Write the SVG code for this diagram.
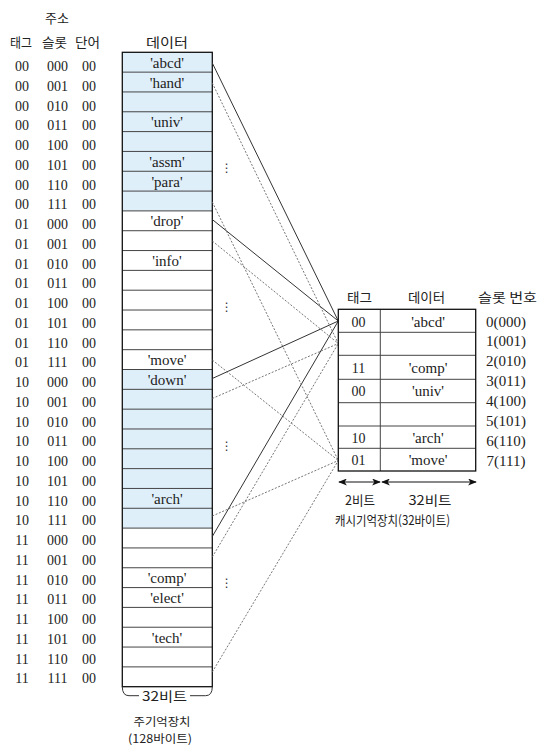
<svg xmlns="http://www.w3.org/2000/svg" width="540" height="751" viewBox="0 0 540 751">
<defs>
<style>
.ko{font-family:"Noto Sans CJK KR","Noto Sans",sans-serif;font-size:13px;fill:#222;text-anchor:middle}
.ks{font-family:"Noto Sans CJK KR","Noto Sans",sans-serif;font-size:11.5px;fill:#222;text-anchor:middle}
.sr{font-family:"Liberation Serif",serif;font-size:14px;fill:#222;text-anchor:middle}
.dt{font-family:"Liberation Serif",serif;font-size:15px;fill:#222;text-anchor:middle}
.blue{fill:#dfeffa}
.div{stroke:#444;stroke-width:1;fill:none}
.box{stroke:#111;stroke-width:1.3;fill:none}
.solid{stroke:#333;stroke-width:1;fill:none}
.dot{stroke:#666;stroke-width:0.9;fill:none;stroke-dasharray:2 1.6}
.el{font-family:"DejaVu Sans",sans-serif;font-size:12px;fill:#333;text-anchor:middle}
.arr{stroke:#111;stroke-width:1;fill:none;marker-start:url(#ah);marker-end:url(#ah)}
</style>
<marker id="ah" viewBox="0 0 10 8" refX="9" refY="4" markerWidth="9" markerHeight="7" markerUnits="userSpaceOnUse" orient="auto-start-reverse">
<path d="M0,0 L10,4 L0,8 L2.5,4 z" fill="#111"/>
</marker>
</defs>
<rect width="540" height="751" fill="#fff"/>

<g id="address-header">
<text class="ko" x="57" y="23">주소</text>
<text class="ko" x="21" y="47" textLength="22" lengthAdjust="spacingAndGlyphs">태그</text>
<text class="ko" x="54.5" y="47" textLength="25" lengthAdjust="spacingAndGlyphs">슬롯</text>
<text class="ko" x="87.5" y="47" textLength="25" lengthAdjust="spacingAndGlyphs">단어</text>
<text class="ko" x="167" y="47" textLength="42" lengthAdjust="spacingAndGlyphs">데이터</text>
</g>

<g id="addresses">
<text class="sr" x="22" y="71">00</text><text class="sr" x="57.5" y="71">000</text><text class="sr" x="89" y="71">00</text>
<text class="sr" x="22" y="90.8">00</text><text class="sr" x="57.5" y="90.8">001</text><text class="sr" x="89" y="90.8">00</text>
<text class="sr" x="22" y="110.5">00</text><text class="sr" x="57.5" y="110.5">010</text><text class="sr" x="89" y="110.5">00</text>
<text class="sr" x="22" y="130.3">00</text><text class="sr" x="57.5" y="130.3">011</text><text class="sr" x="89" y="130.3">00</text>
<text class="sr" x="22" y="150">00</text><text class="sr" x="57.5" y="150">100</text><text class="sr" x="89" y="150">00</text>
<text class="sr" x="22" y="169.8">00</text><text class="sr" x="57.5" y="169.8">101</text><text class="sr" x="89" y="169.8">00</text>
<text class="sr" x="22" y="189.5">00</text><text class="sr" x="57.5" y="189.5">110</text><text class="sr" x="89" y="189.5">00</text>
<text class="sr" x="22" y="209.3">00</text><text class="sr" x="57.5" y="209.3">111</text><text class="sr" x="89" y="209.3">00</text>
<text class="sr" x="22" y="229">01</text><text class="sr" x="57.5" y="229">000</text><text class="sr" x="89" y="229">00</text>
<text class="sr" x="22" y="248.8">01</text><text class="sr" x="57.5" y="248.8">001</text><text class="sr" x="89" y="248.8">00</text>
<text class="sr" x="22" y="268.5">01</text><text class="sr" x="57.5" y="268.5">010</text><text class="sr" x="89" y="268.5">00</text>
<text class="sr" x="22" y="288.3">01</text><text class="sr" x="57.5" y="288.3">011</text><text class="sr" x="89" y="288.3">00</text>
<text class="sr" x="22" y="308">01</text><text class="sr" x="57.5" y="308">100</text><text class="sr" x="89" y="308">00</text>
<text class="sr" x="22" y="327.8">01</text><text class="sr" x="57.5" y="327.8">101</text><text class="sr" x="89" y="327.8">00</text>
<text class="sr" x="22" y="347.5">01</text><text class="sr" x="57.5" y="347.5">110</text><text class="sr" x="89" y="347.5">00</text>
<text class="sr" x="22" y="367.3">01</text><text class="sr" x="57.5" y="367.3">111</text><text class="sr" x="89" y="367.3">00</text>
<text class="sr" x="22" y="387">10</text><text class="sr" x="57.5" y="387">000</text><text class="sr" x="89" y="387">00</text>
<text class="sr" x="22" y="406.8">10</text><text class="sr" x="57.5" y="406.8">001</text><text class="sr" x="89" y="406.8">00</text>
<text class="sr" x="22" y="426.5">10</text><text class="sr" x="57.5" y="426.5">010</text><text class="sr" x="89" y="426.5">00</text>
<text class="sr" x="22" y="446.3">10</text><text class="sr" x="57.5" y="446.3">011</text><text class="sr" x="89" y="446.3">00</text>
<text class="sr" x="22" y="466">10</text><text class="sr" x="57.5" y="466">100</text><text class="sr" x="89" y="466">00</text>
<text class="sr" x="22" y="485.8">10</text><text class="sr" x="57.5" y="485.8">101</text><text class="sr" x="89" y="485.8">00</text>
<text class="sr" x="22" y="505.5">10</text><text class="sr" x="57.5" y="505.5">110</text><text class="sr" x="89" y="505.5">00</text>
<text class="sr" x="22" y="525.3">10</text><text class="sr" x="57.5" y="525.3">111</text><text class="sr" x="89" y="525.3">00</text>
<text class="sr" x="22" y="545">11</text><text class="sr" x="57.5" y="545">000</text><text class="sr" x="89" y="545">00</text>
<text class="sr" x="22" y="564.8">11</text><text class="sr" x="57.5" y="564.8">001</text><text class="sr" x="89" y="564.8">00</text>
<text class="sr" x="22" y="584.5">11</text><text class="sr" x="57.5" y="584.5">010</text><text class="sr" x="89" y="584.5">00</text>
<text class="sr" x="22" y="604.3">11</text><text class="sr" x="57.5" y="604.3">011</text><text class="sr" x="89" y="604.3">00</text>
<text class="sr" x="22" y="624">11</text><text class="sr" x="57.5" y="624">100</text><text class="sr" x="89" y="624">00</text>
<text class="sr" x="22" y="643.8">11</text><text class="sr" x="57.5" y="643.8">101</text><text class="sr" x="89" y="643.8">00</text>
<text class="sr" x="22" y="663.5">11</text><text class="sr" x="57.5" y="663.5">110</text><text class="sr" x="89" y="663.5">00</text>
<text class="sr" x="22" y="683.3">11</text><text class="sr" x="57.5" y="683.3">111</text><text class="sr" x="89" y="683.3">00</text>
</g>

<g id="main-memory">
<rect class="blue" x="122.3" y="52.3" width="90" height="158.6"/>
<rect class="blue" x="122.3" y="369.5" width="90" height="158.6"/>
<g class="div">
<line x1="122.3" y1="72.13" x2="212.3" y2="72.13"/>
<line x1="122.3" y1="91.95" x2="212.3" y2="91.95"/>
<line x1="122.3" y1="111.78" x2="212.3" y2="111.78"/>
<line x1="122.3" y1="131.6" x2="212.3" y2="131.6"/>
<line x1="122.3" y1="151.43" x2="212.3" y2="151.43"/>
<line x1="122.3" y1="171.25" x2="212.3" y2="171.25"/>
<line x1="122.3" y1="191.08" x2="212.3" y2="191.08"/>
<line x1="122.3" y1="210.9" x2="212.3" y2="210.9"/>
<line x1="122.3" y1="230.73" x2="212.3" y2="230.73"/>
<line x1="122.3" y1="250.55" x2="212.3" y2="250.55"/>
<line x1="122.3" y1="270.38" x2="212.3" y2="270.38"/>
<line x1="122.3" y1="290.2" x2="212.3" y2="290.2"/>
<line x1="122.3" y1="310.03" x2="212.3" y2="310.03"/>
<line x1="122.3" y1="329.85" x2="212.3" y2="329.85"/>
<line x1="122.3" y1="349.68" x2="212.3" y2="349.68"/>
<line x1="122.3" y1="369.5" x2="212.3" y2="369.5"/>
<line x1="122.3" y1="389.33" x2="212.3" y2="389.33"/>
<line x1="122.3" y1="409.15" x2="212.3" y2="409.15"/>
<line x1="122.3" y1="428.98" x2="212.3" y2="428.98"/>
<line x1="122.3" y1="448.8" x2="212.3" y2="448.8"/>
<line x1="122.3" y1="468.63" x2="212.3" y2="468.63"/>
<line x1="122.3" y1="488.45" x2="212.3" y2="488.45"/>
<line x1="122.3" y1="508.28" x2="212.3" y2="508.28"/>
<line x1="122.3" y1="528.1" x2="212.3" y2="528.1"/>
<line x1="122.3" y1="547.93" x2="212.3" y2="547.93"/>
<line x1="122.3" y1="567.75" x2="212.3" y2="567.75"/>
<line x1="122.3" y1="587.58" x2="212.3" y2="587.58"/>
<line x1="122.3" y1="607.4" x2="212.3" y2="607.4"/>
<line x1="122.3" y1="627.23" x2="212.3" y2="627.23"/>
<line x1="122.3" y1="647.05" x2="212.3" y2="647.05"/>
<line x1="122.3" y1="666.88" x2="212.3" y2="666.88"/>
</g>
<rect class="box" x="122.3" y="52.3" width="90" height="634.4"/>
<text class="dt" x="167" y="67.8">'abcd'</text>
<text class="dt" x="167" y="87.6">'hand'</text>
<text class="dt" x="167" y="127.3">'univ'</text>
<text class="dt" x="167" y="166.9">'assm'</text>
<text class="dt" x="167" y="186.7">'para'</text>
<text class="dt" x="167" y="226.4">'drop'</text>
<text class="dt" x="167" y="266">'info'</text>
<text class="dt" x="167" y="365.2">'move'</text>
<text class="dt" x="167" y="385">'down'</text>
<text class="dt" x="167" y="503.9">'arch'</text>
<text class="dt" x="167" y="583.2">'comp'</text>
<text class="dt" x="167" y="603">'elect'</text>
<text class="dt" x="167" y="642.7">'tech'</text>
</g>

<g id="memory-label">
<path d="M122.3,686.7 Q122.3,695.7 129,695.7 L139,695.7 M190,695.7 L205.6,695.7 Q212.3,695.7 212.3,686.7" fill="none" stroke="#333" stroke-width="1"/>
<text class="ko" x="164.5" y="701" textLength="45" lengthAdjust="spacingAndGlyphs">32비트</text>
<text class="ks" x="162" y="725.5" textLength="57" lengthAdjust="spacingAndGlyphs">주기억장치</text>
<text class="ks" x="160" y="742.5" textLength="64" lengthAdjust="spacingAndGlyphs">(128바이트)</text>
</g>

<g id="ellipses">
<text class="el" x="226.7" y="172">⋮</text>
<text class="el" x="226.7" y="311">⋮</text>
<text class="el" x="226.7" y="450">⋮</text>
<text class="el" x="226.7" y="587">⋮</text>
</g>

<g id="connectors">
<line class="solid" x1="212.3" y1="63" x2="338.3" y2="321"/>
<line class="solid" x1="212.3" y1="219.5" x2="338.3" y2="321"/>
<line class="solid" x1="212.3" y1="378.5" x2="338.3" y2="321"/>
<line class="solid" x1="212.3" y1="536.5" x2="338.3" y2="321"/>
<line class="dot" x1="212.3" y1="83" x2="338.3" y2="343.5"/>
<line class="dot" x1="212.3" y1="241" x2="338.3" y2="343.5"/>
<line class="dot" x1="212.3" y1="398.5" x2="338.3" y2="343.5"/>
<line class="dot" x1="212.3" y1="557" x2="338.3" y2="343.5"/>
<line class="dot" x1="212.3" y1="202" x2="338.3" y2="460.5"/>
<line class="dot" x1="212.3" y1="360" x2="338.3" y2="460.5"/>
<line class="dot" x1="212.3" y1="516" x2="338.3" y2="460.5"/>
<line class="dot" x1="212.3" y1="672" x2="338.3" y2="460.5"/>
</g>

<g id="cache">
<text class="ko" x="359.5" y="302" textLength="25" lengthAdjust="spacingAndGlyphs">태그</text>
<text class="ko" x="426.5" y="302" textLength="37" lengthAdjust="spacingAndGlyphs">데이터</text>
<text class="ko" x="507.5" y="302" textLength="59" lengthAdjust="spacingAndGlyphs">슬롯 번호</text>
<g class="div">
<line x1="338.3" y1="332.3" x2="475.7" y2="332.3"/>
<line x1="338.3" y1="355.3" x2="475.7" y2="355.3"/>
<line x1="338.3" y1="379.3" x2="475.7" y2="379.3"/>
<line x1="338.3" y1="402.7" x2="475.7" y2="402.7"/>
<line x1="338.3" y1="426" x2="475.7" y2="426"/>
<line x1="338.3" y1="448.3" x2="475.7" y2="448.3"/>
<line x1="380.3" y1="309.3" x2="380.3" y2="471"/>
</g>
<rect class="box" x="338.3" y="309.3" width="137.4" height="161.7"/>
<text class="sr" x="358.5" y="326.5">00</text><text class="dt" x="428" y="326.5">'abcd'</text>
<text class="sr" x="358.5" y="372.5">11</text><text class="dt" x="428" y="372.5">'comp'</text>
<text class="sr" x="358.5" y="395.5">00</text><text class="dt" x="428" y="395.5">'univ'</text>
<text class="sr" x="358.5" y="443">10</text><text class="dt" x="428" y="443">'arch'</text>
<text class="sr" x="358.5" y="465">01</text><text class="dt" x="428" y="465">'move'</text>
</g>

<g id="slot-numbers">
<text class="dt" x="506" y="326.5">0(000)</text>
<text class="dt" x="506" y="346.4">1(001)</text>
<text class="dt" x="506" y="366.3">2(010)</text>
<text class="dt" x="506" y="386.2">3(011)</text>
<text class="dt" x="506" y="406.1">4(100)</text>
<text class="dt" x="506" y="426">5(101)</text>
<text class="dt" x="506" y="445.9">6(110)</text>
<text class="dt" x="506" y="465.8">7(111)</text>
</g>

<g id="cache-label">
<line class="arr" x1="339" y1="482" x2="380" y2="482"/>
<line class="arr" x1="382" y1="482" x2="476" y2="482"/>
<text class="ko" x="360" y="504.5" textLength="30" lengthAdjust="spacingAndGlyphs">2비트</text>
<text class="ko" x="430" y="504.5" textLength="43" lengthAdjust="spacingAndGlyphs">32비트</text>
<text class="ko" x="392.5" y="525" textLength="115" lengthAdjust="spacingAndGlyphs">캐시기억장치(32바이트)</text>
</g>
</svg>
